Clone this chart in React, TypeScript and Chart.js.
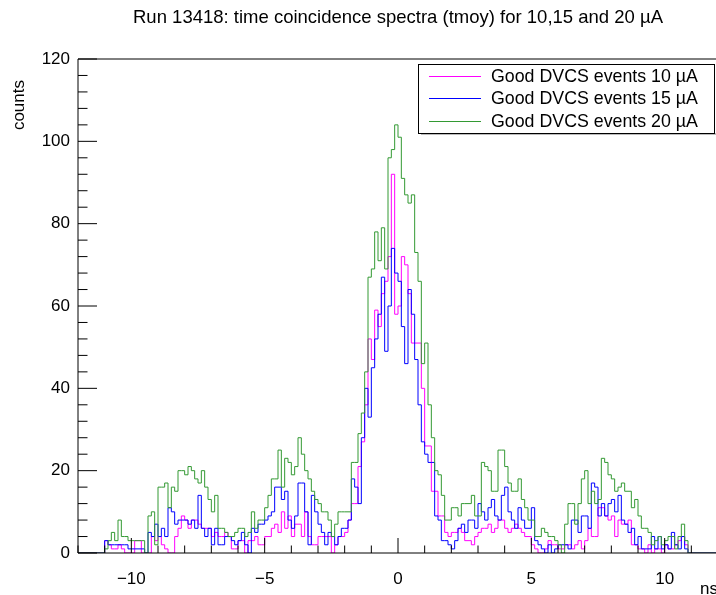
import React, { useEffect, useRef } from 'react';
import { Chart, registerables } from 'chart.js';

Chart.register(...registerables);

const FONT = "'Liberation Sans', Arial, Helvetica, sans-serif";

const titleText = 'Run 13418: time coincidence spectra (tmoy) for 10,15 and 20 \u00b5A';
const xAxisTitle = 'ns';
const yAxisTitle = 'counts';
const seriesLabels = ['Good DVCS events 10 \u00b5A', 'Good DVCS events 15 \u00b5A', 'Good DVCS events 20 \u00b5A'];
const seriesColors = ['#ff00ff', '#0000ff', '#339933'];

const rangeMin = -12;
const rangeMax = 12;
const binStart = -11;
const binWidth = 0.125;

const xTickValues = [-10, -5, 0, 5, 10];
const yTickValues = [0, 20, 40, 60, 80, 100, 120];

// 10 uA
const good10 = [
  3, 2, 1, 1, 2, 1, 0, 0,
  0, 3, 3, 0, 0, 0, 4, 3,
  4, 2, 1, 0, 0, 4, 6, 9,
  8, 6, 8, 8, 7, 6, 6, 6,
  4, 5, 4, 4, 5, 4, 1, 1,
  3, 3, 0, 3, 3, 4, 2, 2,
  4, 4, 6, 7, 5, 10, 6, 9,
  4, 7, 7, 4, 10, 4, 2, 2,
  4, 4, 4, 4, 0, 2, 4, 4,
  5, 8, 12, 12, 21, 27, 36, 52,
  47, 59, 55, 63, 66, 72, 92, 58,
  60, 72, 70, 63, 51, 51, 51, 40,
  26, 26, 15, 15, 9, 9, 5, 4,
  5, 5, 6, 5, 3, 3, 2, 4,
  5, 6, 6, 7, 5, 6, 8, 8,
  6, 5, 6, 7, 6, 5, 4, 4,
  2, 1, 0, 0, 1, 3, 2, 2,
  1, 1, 2, 2, 1, 2, 3, 1,
  3, 6, 4, 4, 11, 11, 9, 8,
  9, 4, 8, 7, 7, 8, 2, 2,
  1, 1, 0, 2, 0, 1, 1, 0,
  2, 1, 1, 2, 3, 4, 2, 0,
];

// 15 uA
const good15 = [
  3, 2, 2, 2, 2, 2, 2, 1,
  1, 1, 1, 1, 0, 5, 4, 7,
  4, 6, 4, 11, 10, 7, 8, 8,
  8, 7, 8, 6, 14, 6, 4, 6,
  2, 6, 2, 2, 4, 4, 3, 2,
  3, 5, 2, 0, 6, 5, 7, 7,
  8, 9, 10, 16, 16, 13, 15, 8,
  6, 9, 17, 17, 10, 2, 14, 10,
  7, 5, 2, 5, 4, 2, 4, 6,
  6, 8, 18, 16, 12, 28, 40, 33,
  45, 52, 58, 67, 49, 60, 74, 68,
  66, 55, 46, 64, 58, 47, 36, 27,
  24, 22, 22, 9, 8, 3, 3, 2,
  1, 3, 6, 7, 5, 8, 8, 6,
  12, 10, 8, 11, 13, 9, 8, 14,
  16, 10, 8, 6, 11, 8, 6, 6,
  11, 3, 2, 1, 0, 2, 0, 1,
  2, 2, 2, 1, 8, 8, 5, 9,
  9, 6, 17, 16, 9, 12, 9, 12,
  13, 10, 14, 8, 7, 5, 6, 2,
  4, 1, 1, 1, 4, 1, 4, 1,
  2, 1, 5, 2, 1, 4, 1, 0,
];

// 20 uA
const good20 = [
  1, 3, 5, 3, 8, 4, 4, 3,
  3, 3, 3, 3, 0, 9, 10, 2,
  16, 16, 17, 11, 16, 15, 20, 20,
  19, 21, 20, 18, 17, 20, 16, 13,
  10, 14, 6, 6, 5, 4, 4, 5,
  6, 6, 4, 5, 10, 6, 8, 8,
  11, 14, 18, 18, 25, 16, 23, 22,
  19, 21, 28, 24, 20, 18, 15, 13,
  12, 10, 10, 8, 4, 7, 10, 10,
  10, 10, 22, 22, 29, 34, 44, 67,
  69, 78, 71, 79, 69, 96, 98, 104,
  101, 91, 87, 85, 87, 73, 66, 46,
  51, 36, 28, 20, 19, 14, 8, 8,
  11, 11, 9, 12, 12, 12, 14, 9,
  9, 22, 21, 20, 15, 15, 25, 25,
  21, 17, 15, 15, 18, 13, 11, 8,
  8, 4, 4, 6, 5, 4, 4, 3,
  2, 0, 7, 12, 12, 7, 12, 18,
  20, 12, 15, 12, 13, 23, 22, 19,
  18, 15, 16, 17, 15, 15, 11, 13,
  9, 6, 6, 5, 2, 3, 4, 2,
  3, 4, 4, 1, 4, 7, 3, 0,
];

const seriesValues = [good10, good15, good20];

// Histogram outline: each point sits on a bin's left edge; stepped 'before'
// draws the horizontal run at that bin's count up to the next edge.
function toSteps(values: number[]) {
  const pts: { x: number; y: number }[] = [{ x: rangeMin, y: 0 }];
  values.forEach((v, i) => pts.push({ x: binStart + i * binWidth, y: v }));
  pts.push({ x: binStart + values.length * binWidth, y: 0 });
  pts.push({ x: rangeMax, y: 0 });
  return pts;
}

const fmt = (v: number) => (v < 0 ? '\u2212' + Math.abs(v) : String(v));

const rootPlugin = {
  id: 'rootDecor',
  afterDraw(chart: any) {
    const { ctx, chartArea: a, scales } = chart;
    const x = scales.x;
    const y = scales.y;
    ctx.save();
    ctx.strokeStyle = '#000';
    ctx.lineWidth = 1;
    ctx.beginPath();
    ctx.moveTo(a.left, a.top);
    ctx.lineTo(a.right, a.top);
    ctx.moveTo(a.left, a.top);
    ctx.lineTo(a.left, a.bottom);
    ctx.moveTo(a.left, a.bottom);
    ctx.lineTo(a.right, a.bottom);
    ctx.moveTo(a.right, a.top);
    ctx.lineTo(a.right, a.bottom);
    for (let v = rangeMin; v <= rangeMax; v += 1) {
      const px = x.getPixelForValue(v);
      const len = v % 5 === 0 ? 15 : 7.5;
      ctx.moveTo(px, a.bottom);
      ctx.lineTo(px, a.bottom - len);
    }
    for (let v = 0; v <= 120; v += 4) {
      const py = y.getPixelForValue(v);
      const len = v % 20 === 0 ? 19 : 9.5;
      ctx.moveTo(a.left, py);
      ctx.lineTo(a.left + len, py);
    }
    ctx.stroke();

    // title
    ctx.fillStyle = '#000';
    ctx.font = `18.5px ${FONT}`;
    ctx.textAlign = 'center';
    ctx.textBaseline = 'alphabetic';
    ctx.fillText(titleText, 398, 23);

    // axis titles
    ctx.font = `17px ${FONT}`;
    ctx.textAlign = 'right';
    ctx.fillText(xAxisTitle, a.right, 594);
    ctx.save();
    ctx.translate(24, 80);
    ctx.rotate(-Math.PI / 2);
    ctx.textAlign = 'right';
    ctx.fillText(yAxisTitle, 0, 0);
    ctx.restore();

    // legend
    const lx = 418, ly = 64, lw = 296, lh = 69;
    ctx.fillStyle = '#bbb';
    ctx.fillRect(lx + 3, ly + lh, lw, 2);
    ctx.fillStyle = '#fff';
    ctx.fillRect(lx, ly, lw, lh);
    ctx.strokeStyle = '#000';
    ctx.strokeRect(lx + 0.5, ly + 0.5, lw, lh);
    const rows = [76.5, 98.5, 121.5];
    ctx.font = `17.8px ${FONT}`;
    ctx.textAlign = 'left';
    ctx.textBaseline = 'middle';
    seriesLabels.forEach((lab, i) => {
      ctx.strokeStyle = seriesColors[i];
      ctx.beginPath();
      ctx.moveTo(429, rows[i]);
      ctx.lineTo(481, rows[i]);
      ctx.stroke();
      ctx.fillStyle = '#000';
      ctx.fillText(lab, 491, rows[i] + 1);
    });
    ctx.restore();
  },
};

export default function App() {
  const ref = useRef<HTMLCanvasElement | null>(null);
  useEffect(() => {
    if (!ref.current) return;
    const datasets = [2, 1, 0].map((k) => ({
      label: seriesLabels[k],
      data: toSteps(seriesValues[k]),
      borderColor: seriesColors[k],
      backgroundColor: seriesColors[k],
      borderWidth: 1,
      pointRadius: 0,
      fill: false,
      stepped: 'before' as const,
    }));
    const chart = new Chart(ref.current, {
      type: 'line',
      data: { datasets },
      options: {
        animation: false,
        responsive: false,
        maintainAspectRatio: false,
        layout: { padding: { left: 0, right: 2, top: 59, bottom: 0 } },
        plugins: { legend: { display: false }, title: { display: false }, tooltip: { enabled: false } },
        scales: {
          x: {
            type: 'linear',
            min: rangeMin,
            max: rangeMax,
            afterBuildTicks: (s: any) => { s.ticks = xTickValues.map((v) => ({ value: v })); },
            afterFit: (s: any) => { s.height = 42; },
            grid: { display: false, drawTicks: false },
            border: { display: false },
            ticks: {
              callback: (v: any) => fmt(Number(v)),
              color: '#000',
              font: { family: FONT, size: 17 },
              padding: 16,
              maxRotation: 0,
              autoSkip: false,
            },
          },
          y: {
            type: 'linear',
            min: 0,
            max: 120,
            afterBuildTicks: (s: any) => { s.ticks = yTickValues.map((v) => ({ value: v })); },
            afterFit: (s: any) => { s.width = 78; },
            grid: { display: false, drawTicks: false },
            border: { display: false },
            ticks: {
              callback: (v: any) => fmt(Number(v)),
              color: '#000',
              font: { family: FONT, size: 17 },
              padding: 8,
              autoSkip: false,
            },
          },
        },
      },
      plugins: [rootPlugin],
    });
    return () => chart.destroy();
  }, []);
  return (
    <div style={{ position: 'absolute', left: 0, top: 0, width: 716, height: 595, overflow: 'hidden', background: '#fff' }}>
      <canvas ref={ref} width={720} height={595} style={{ display: 'block', width: 720, height: 595 }} />
    </div>
  );
}
